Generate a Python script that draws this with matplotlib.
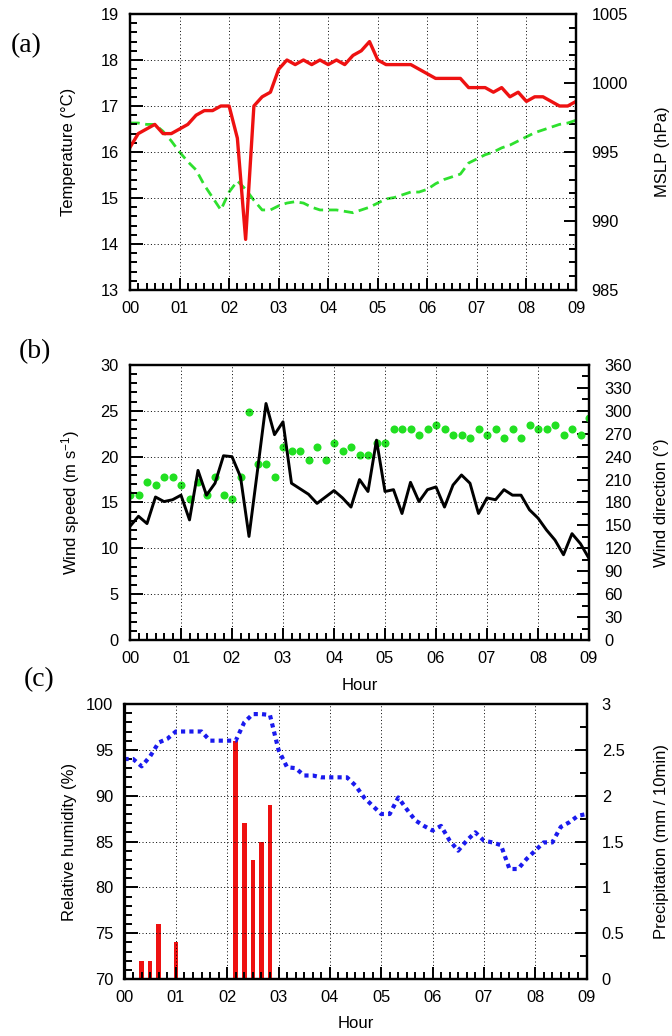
import numpy as np
import matplotlib
matplotlib.use('Agg')
import matplotlib.pyplot as plt
from matplotlib.ticker import MultipleLocator, FuncFormatter

plt.rcParams['font.family'] = ['Liberation Sans', 'DejaVu Sans']
plt.rcParams['mathtext.default'] = 'regular'

# 10-minute observations from 00:00 to 09:00
minutes = np.arange(0, 550, 10)
hours = minutes / 60.0
hour_labels = ['00', '01', '02', '03', '04', '05', '06', '07', '08', '09']

temperature = [16.1, 16.4, 16.5, 16.6, 16.4, 16.4, 16.5, 16.6, 16.8, 16.9,
               16.9, 17.0, 17.0, 16.3, 14.1, 17.0, 17.2, 17.3, 17.8, 18.0,
               17.9, 18.0, 17.9, 18.0, 17.9, 18.0, 17.9, 18.1, 18.2, 18.4,
               18.0, 17.9, 17.9, 17.9, 17.9, 17.8, 17.7, 17.6, 17.6, 17.6,
               17.6, 17.4, 17.4, 17.4, 17.3, 17.4, 17.2, 17.3, 17.1, 17.2,
               17.2, 17.1, 17.0, 17.0, 17.1]
mslp = [997.1, 997.1, 997.0, 997.0, 996.5, 995.8, 995.0, 994.3, 993.7, 992.6,
        991.7, 990.8, 992.1, 992.9, 992.3, 991.5, 990.8, 990.8, 991.1, 991.3,
        991.4, 991.3, 991.0, 990.8, 990.8, 990.8, 990.7, 990.6, 990.8, 991.0,
        991.3, 991.6, 991.7, 991.9, 992.1, 992.1, 992.3, 992.7, 993.0, 993.2,
        993.4, 994.2, 994.5, 994.8, 995.0, 995.3, 995.5, 995.8, 996.1, 996.4,
        996.6, 996.8, 997.0, 997.1, 997.3]
wind_speed = [12.4, 13.5, 12.7, 15.6, 15.1, 15.3, 15.8, 13.1, 18.5, 15.8,
              17.1, 20.1, 20.0, 17.8, 11.3, 18.5, 25.8, 22.4, 23.8, 17.1,
              16.5, 15.9, 14.9, 15.6, 16.3, 15.5, 14.5, 17.5, 16.2, 21.8,
              16.2, 16.4, 13.8, 17.2, 15.1, 16.4, 16.7, 14.5, 16.9, 18.0,
              17.1, 13.8, 15.5, 15.3, 16.4, 15.8, 15.8, 14.2, 13.3, 12.0,
              10.9, 9.3, 11.6, 10.5, 8.9]
wind_dir = [190, 190, 207, 203, 214, 214, 203, 185, 207, 190,
            214, 190, 185, 214, 298, 230, 230, 214, 253, 248,
            248, 236, 253, 236, 258, 248, 253, 242, 242, 258,
            258, 276, 276, 276, 269, 276, 281, 276, 269, 269,
            264, 276, 269, 276, 264, 276, 264, 281, 276, 276,
            281, 269, 276, 269, 291]
rel_humidity = [94.0, 94.0, 93.2, 94.3, 95.8, 96.2, 97.0, 97.0, 97.0, 97.0,
                96.0, 96.0, 96.0, 96.0, 98.0, 98.9, 98.9, 98.8, 95.0, 93.1,
                93.0, 92.2, 92.2, 92.0, 92.0, 92.0, 92.0, 91.1, 89.8, 88.9,
                88.0, 88.0, 89.8, 88.5, 87.3, 86.7, 86.2, 86.7, 85.1, 84.0,
                85.1, 86.0, 85.1, 84.9, 84.6, 82.0, 82.0, 83.1, 84.0, 84.9,
                84.9, 86.6, 87.1, 87.8, 88.0]
precip = [0, 0, 0.2, 0.2, 0.6, 0, 0.4, 0, 0, 0,
          0, 0, 0, 2.6, 1.7, 1.3, 1.5, 1.9, 0, 0,
          0, 0, 0, 0, 0, 0, 0, 0, 0, 0,
          0, 0, 0, 0, 0, 0, 0, 0, 0, 0,
          0, 0, 0, 0, 0, 0, 0, 0, 0, 0,
          0, 0, 0, 0, 0]

W, H = 672, 1036
fig = plt.figure(figsize=(W / 100, H / 100), dpi=100)


def box(left, top, right, bottom):
    return [left / W, 1 - bottom / H, (right - left) / W, (bottom - top) / H]


def style(ax, axr, ymin, ymax, ymaj, ymin_step, rmin, rmax, rmaj, rmin_step):
    ax.set_xlim(0, 9)
    ax.set_xticks(range(10))
    ax.set_xticklabels(hour_labels)
    ax.xaxis.set_minor_locator(MultipleLocator(1 / 6))
    ax.set_ylim(ymin, ymax)
    ax.yaxis.set_major_locator(MultipleLocator(ymaj))
    ax.yaxis.set_minor_locator(MultipleLocator(ymin_step))
    axr.set_ylim(rmin, rmax)
    axr.yaxis.set_major_locator(MultipleLocator(rmaj))
    axr.yaxis.set_minor_locator(MultipleLocator(rmin_step))
    axr.yaxis.set_major_formatter(FuncFormatter(lambda v, p: '%g' % v))
    for a in (ax, axr):
        a.tick_params(which='both', direction='in', width=1.4, labelsize=11.8)
        a.tick_params(which='major', length=9)
        a.tick_params(which='minor', length=5)
        for s in a.spines.values():
            s.set_linewidth(1.6)
    ax.tick_params(axis='x', pad=8)
    ax.tick_params(axis='y', pad=8)
    axr.tick_params(axis='y', pad=11)
    ax.grid(True, which='major', color='black', linestyle=(0, (1, 2.5)), linewidth=0.7)
    ax.set_zorder(axr.get_zorder() + 1)
    ax.patch.set_visible(False)


# (a) temperature and pressure
ax1 = fig.add_axes(box(130, 14, 576, 290))
ax1r = ax1.twinx()
ax1r.plot(hours, mslp, color='#2ee02e', lw=2.0, linestyle=(0, (3.5, 2)))
ax1.plot(hours, temperature, color='#ee1111', lw=2.4)
style(ax1, ax1r, 13, 19, 1, 0.2, 985, 1005, 5, 1)
ax1.set_ylabel('Temperature (°C)', fontsize=12, va='center')
ax1.yaxis.set_label_coords(-0.137, 0.5)
ax1r.set_ylabel('MSLP (hPa)', fontsize=12, va='center')
ax1r.yaxis.set_label_coords(1.193, 0.5)

# (b) wind
ax2 = fig.add_axes(box(130, 365, 589, 640))
ax2r = ax2.twinx()
ax2r.plot(hours, wind_dir, 'o', color='#22e022', ms=5.8, mec='none')
ax2.plot(hours, wind_speed, color='black', lw=2.1)
style(ax2, ax2r, 0, 30, 5, 1, 0, 360, 30, 15)
ax2.set_ylabel('Wind speed (m s$^{-1}$)', fontsize=12, va='center')
ax2.yaxis.set_label_coords(-0.129, 0.5)
ax2r.set_ylabel('Wind direction (°)', fontsize=12, va='center')
ax2r.yaxis.set_label_coords(1.159, 0.5)
ax2.set_xlabel('Hour', fontsize=12, va='center')
ax2.xaxis.set_label_coords(0.5, -0.164)

# (c) humidity and precipitation
ax3 = fig.add_axes(box(124.5, 704, 586.5, 979))
ax3r = ax3.twinx()
ax3r.bar(hours, precip, width=0.09, color='#ee1111')
ax3.plot(hours, rel_humidity, color='#1a1aee', lw=3.0, linestyle=(0, (1, 1.0)))
style(ax3, ax3r, 70, 100, 5, 1, 0, 3, 0.5, 0.25)
ax3.set_ylabel('Relative humidity (%)', fontsize=12, va='center')
ax3.yaxis.set_label_coords(-0.120, 0.5)
ax3r.set_ylabel('Precipitation (mm / 10min)', fontsize=12, va='center')
ax3r.yaxis.set_label_coords(1.163, 0.5)
ax3.set_xlabel('Hour', fontsize=12, va='center')
ax3.xaxis.set_label_coords(0.5, -0.16)

for lab, x, y in [('(a)', 26, 46), ('(b)', 35, 352), ('(c)', 39, 680)]:
    fig.text(x / W, 1 - y / H, lab, ha='center', va='center',
             family=['Liberation Serif', 'DejaVu Serif'], fontsize=20)

fig.savefig('out.png', dpi=100)
